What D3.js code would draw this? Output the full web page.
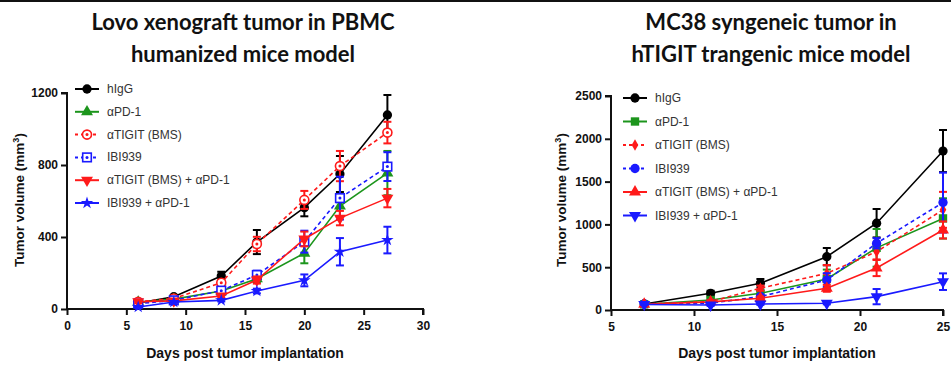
<!DOCTYPE html>
<meta charset="utf-8">
<script src="https://d3js.org/d3.v7.min.js"></script>
<style>
body { margin: 0; background: #fff; }
svg { display: block; }
.title { font-family: Lato, "Open Sans", sans-serif; font-weight: 700; font-size: 22px; fill: #111; }
.axlabel { font-family: "Liberation Sans", Arial, sans-serif; font-weight: 700; fill: #111; }
.tick text { font-family: "Liberation Sans", Arial, sans-serif; font-weight: 700; font-size: 12px; fill: #111; }
.legend text { font-family: "Liberation Sans", Arial, sans-serif; font-size: 12px; fill: #333; }
</style>
<body>
</body>
<script>

// ---- data: Lovo xenograft (left) ----
var lovoDays = [6, 9, 13, 16, 20, 23, 27];
var lovoNames = ["hIgG", "\u03b1PD-1", "\u03b1TIGIT (BMS)", "IBI939", "\u03b1TIGIT (BMS) + \u03b1PD-1", "IBI939 + \u03b1PD-1"];
var lovoMeans = [
  [33, 68, 183, 372, 563, 750, 1078],
  [38, 55, 100, 168, 310, 572, 755],
  [40, 58, 146, 361, 606, 794, 980],
  [30, 48, 102, 189, 374, 616, 791],
  [40, 45, 72, 161, 389, 505, 616],
  [11, 39, 48, 100, 159, 318, 383]
];
var lovoSem = [
  [8, 10, 24, 67, 48, 100, 111],
  [8, 8, 12, 20, 56, 60, 123],
  [8, 8, 15, 40, 50, 84, 60],
  [6, 8, 12, 24, 61, 119, 80],
  [8, 8, 10, 20, 41, 40, 51],
  [4, 5, 6, 13, 33, 76, 74]
];

// ---- data: MC38 syngeneic (right) ----
var mc38Days = [7, 11, 14, 18, 21, 25];
var mc38Names = ["hIgG", "\u03b1PD-1", "\u03b1TIGIT (BMS)", "IBI939", "\u03b1TIGIT (BMS) + \u03b1PD-1", "IBI939 + \u03b1PD-1"];
var mc38Means = [
  [70, 195, 312, 623, 1014, 1857],
  [66, 117, 195, 362, 726, 1070],
  [70, 97, 255, 428, 681, 1170],
  [70, 80, 156, 350, 780, 1255],
  [68, 95, 137, 253, 490, 935],
  [65, 58, 70, 78, 156, 331]
];
var mc38Sem = [
  [15, 30, 50, 101, 166, 246],
  [10, 25, 30, 110, 220, 235],
  [10, 20, 30, 97, 90, 210],
  [10, 15, 20, 80, 60, 350],
  [10, 15, 20, 40, 94, 100],
  [8, 10, 10, 12, 89, 97]
];

var colors = ["#000000", "#1c951c", "#ff1a1a", "#1a1aff", "#ff1a1a", "#1a1aff"];
var dashed = [false, false, true, true, false, false];

var width = 951, height = 365;
var svg = d3.select("body").append("svg")
  .attr("width", width)
  .attr("height", height);

// thin dark border across the top
svg.append("rect").attr("x", 0).attr("y", 0).attr("width", width).attr("height", 2).attr("fill", "#111");

// marker drawing: kind = circle | tri | triDown | openCircle | openSquare | star | square | diamond
function marker(g, kind, color) {
  if (kind === "openCircle") {
    g.append("circle").attr("r", 4.5).attr("fill", "#fff").attr("stroke", color).attr("stroke-width", 1.6);
    g.append("circle").attr("r", 1.5).attr("fill", color);
  } else if (kind === "openSquare") {
    g.append("rect").attr("x", -4.3).attr("y", -4.3).attr("width", 8.6).attr("height", 8.6)
      .attr("fill", "#fff").attr("stroke", color).attr("stroke-width", 1.6);
    g.append("circle").attr("r", 1.5).attr("fill", color);
  } else {
    var type = {circle: d3.symbolCircle, tri: d3.symbolTriangle, triDown: d3.symbolTriangle,
                star: d3.symbolStar, square: d3.symbolSquare, diamond: d3.symbolDiamond}[kind];
    var size = {circle: 68, tri: 62, triDown: 62, star: 48, square: 70, diamond: 38}[kind];
    g.append("path")
      .attr("d", d3.symbol().type(type).size(size)())
      .attr("transform", kind === "triDown" ? "rotate(180)" : null)
      .attr("fill", color);
  }
}

function drawPanel(cfg) {
  var x = d3.scaleLinear().domain(cfg.xDomain).range(cfg.xRange);
  var y = d3.scaleLinear().domain(cfg.yDomain).range(cfg.yRange);
  var g = svg.append("g");

  // titles
  cfg.title.forEach(function(t, i) {
    g.append("text").attr("class", "title")
      .attr("x", cfg.titleX).attr("y", 30 + i * 32)
      .attr("text-anchor", "middle").text(t);
  });

  // axes
  var xAxis = g.append("g").attr("transform", "translate(0," + cfg.yRange[0] + ")")
    .call(d3.axisBottom(x).tickValues(cfg.xTicks).tickFormat(d3.format("d")).tickSize(6).tickPadding(6));
  var yAxis = g.append("g").attr("transform", "translate(" + cfg.xRange[0] + ",0)")
    .call(d3.axisLeft(y).tickValues(cfg.yTicks).tickFormat(d3.format("d")).tickSize(6).tickPadding(3));
  [xAxis, yAxis].forEach(function(a) {
    a.select(".domain").attr("stroke", "#111").attr("stroke-width", 2);
    a.selectAll(".tick line").attr("stroke", "#111").attr("stroke-width", 2);
  });
  yAxis.select(".domain").attr("d", "M-6," + cfg.yRange[1] + "H0V" + cfg.yRange[0]);
  xAxis.select(".domain").attr("d", "M" + cfg.xRange[0] + ",0H" + cfg.xRange[1] + "V6");

  // axis labels
  var yl = g.append("text").attr("class", "axlabel")
    .attr("transform", "translate(" + cfg.yLabelX + ",200) rotate(-90)")
    .attr("text-anchor", "middle").style("font-size", "13.5px");
  yl.append("tspan").text("Tumor volume (mm");
  yl.append("tspan").attr("dy", -5).style("font-size", "9px").text("3");
  yl.append("tspan").attr("dy", 5).text(")");

  g.append("text").attr("class", "axlabel")
    .attr("x", cfg.xLabelX).attr("y", 358)
    .attr("text-anchor", "middle").style("font-size", "14px")
    .text("Days post tumor implantation");

  // series
  var line = d3.line().x(function(d) { return x(d.day); }).y(function(d) { return y(d.v); });
  cfg.means.forEach(function(ms, si) {
    var pts = ms.map(function(v, i) { return {day: cfg.days[i], v: v, e: cfg.sem[si][i]}; });
    var sg = g.append("g");
    sg.append("path").datum(pts).attr("d", line)
      .attr("fill", "none").attr("stroke", colors[si]).attr("stroke-width", 1.6)
      .attr("stroke-dasharray", dashed[si] ? "4,3" : null);
    var eb = sg.selectAll(".eb").data(pts).enter().append("g");
    eb.append("line")
      .attr("x1", function(d) { return x(d.day); }).attr("x2", function(d) { return x(d.day); })
      .attr("y1", function(d) { return y(Math.max(0, d.v - d.e)); })
      .attr("y2", function(d) { return y(d.v + d.e); })
      .attr("stroke", colors[si]).attr("stroke-width", 2);
    [-1, 1].forEach(function(s) {
      eb.append("line")
        .attr("x1", function(d) { return x(d.day) - 4; }).attr("x2", function(d) { return x(d.day) + 4; })
        .attr("y1", function(d) { return y(s > 0 ? d.v + d.e : Math.max(0, d.v - d.e)); })
        .attr("y2", function(d) { return y(s > 0 ? d.v + d.e : Math.max(0, d.v - d.e)); })
        .attr("stroke", colors[si]).attr("stroke-width", 2);
    });
    pts.forEach(function(d) {
      var mg = sg.append("g").attr("transform", "translate(" + x(d.day) + "," + y(d.v) + ")");
      marker(mg, cfg.markers[si], colors[si]);
    });
  });

  // legend
  var lg = g.append("g").attr("class", "legend");
  cfg.names.forEach(function(n, i) {
    var ly = cfg.legendY + i * cfg.legendStep;
    lg.append("line")
      .attr("x1", cfg.legendX - 12).attr("x2", cfg.legendX + 12)
      .attr("y1", ly).attr("y2", ly)
      .attr("stroke", colors[i]).attr("stroke-width", 2)
      .attr("stroke-dasharray", dashed[i] ? "3,3" : null);
    var mg = lg.append("g").attr("transform", "translate(" + cfg.legendX + "," + ly + ")");
    marker(mg, cfg.markers[i], colors[i]);
    lg.append("text").attr("x", cfg.legendX + 20).attr("y", ly + 4).text(n);
  });
}

drawPanel({
  title: ["Lovo xenograft tumor in PBMC", "humanized mice model"], titleX: 243,
  xDomain: [0, 30], xRange: [67, 423], yDomain: [0, 1200], yRange: [309, 93],
  xTicks: [0, 5, 10, 15, 20, 25, 30], yTicks: [0, 400, 800, 1200],
  yLabelX: 24, xLabelX: 245,
  days: lovoDays, means: lovoMeans, sem: lovoSem, names: lovoNames,
  markers: ["circle", "tri", "openCircle", "openSquare", "triDown", "star"],
  legendX: 87, legendY: 89, legendStep: 22.8
});

drawPanel({
  title: ["MC38 syngeneic tumor in", "hTIGIT trangenic mice model"], titleX: 771,
  xDomain: [5, 25], xRange: [611, 943], yDomain: [0, 2500], yRange: [310, 96],
  xTicks: [5, 10, 15, 20, 25], yTicks: [0, 500, 1000, 1500, 2000, 2500],
  yLabelX: 566, xLabelX: 777,
  days: mc38Days, means: mc38Means, sem: mc38Sem, names: mc38Names,
  markers: ["circle", "square", "diamond", "circle", "tri", "triDown"],
  legendX: 635, legendY: 98, legendStep: 23.5
});

</script>
